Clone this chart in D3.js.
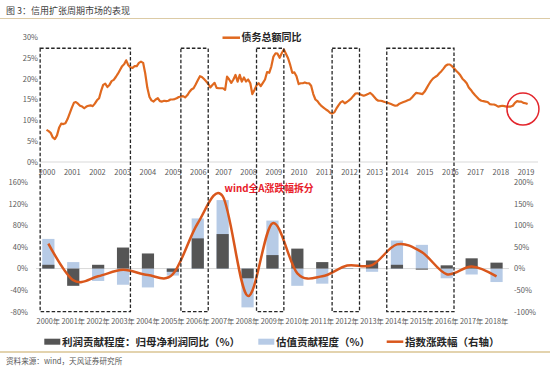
<!DOCTYPE html>
<html>
<head>
<meta charset="utf-8">
<script src="https://cdn.jsdelivr.net/npm/d3@7"></script>
<style>
  body { margin: 0; background: #fff; }
  svg text { font-family: "Noto Sans CJK SC", "Noto Sans", sans-serif; }
</style>
</head>
<body>
<div id="chart"></div>
<script>
// 债务总额同比, monthly from 2000-01 (%)
const debtStart = new Date(2000, 0, 1);
const debtYoY = [
  7.7, 7.4, 7.0, 5.9, 5.5, 6.4, 8.2, 9.2, 9.1, 9.3, 10.3, 11.6,
  13.0, 14.2, 14.4, 14.0, 13.5, 13.3, 12.9, 13.3, 13.5, 13.6, 13.4, 14.0,
  14.8, 15.3, 17.0, 18.5, 18.8, 18.0, 18.5, 19.4, 19.7, 20.4, 21.2, 22.1,
  23.0, 23.5, 24.4, 23.2, 22.7, 22.6, 23.0, 23.0, 23.8, 24.1, 23.8, 21.3,
  17.8, 15.6, 14.8, 14.5, 15.0, 15.3, 14.6, 14.5, 14.7, 14.6, 14.7, 15.0,
  15.0, 15.1, 15.3, 15.6, 15.7, 15.8, 15.5, 16.0, 16.8, 17.4, 17.7, 18.6,
  19.6, 20.6, 20.4, 19.9, 19.4, 18.8, 17.9, 18.5, 19.0, 17.8, 17.7, 17.7,
  17.7, 17.3, 20.5, 19.8, 19.0, 19.8, 20.9, 19.3, 20.9, 19.3, 20.3, 19.3,
  19.8, 18.9, 16.3, 17.3, 18.4, 18.9, 18.2, 19.0, 19.8, 21.6, 21.4, 22.9,
  25.3, 26.1, 26.0, 25.0, 26.1, 27.0, 26.0, 24.9, 23.3, 21.4, 21.5, 20.6,
  18.7, 18.9, 18.9, 19.1, 18.9, 18.9, 18.3, 16.3, 15.0, 14.6, 13.9, 13.4,
  13.0, 12.6, 12.3, 11.8, 11.6, 11.9, 12.8, 13.6, 14.3, 14.6, 14.1, 14.4,
  14.8, 15.2, 15.8, 16.4, 16.5, 16.3, 16.1, 15.9, 16.1, 16.3, 16.6, 16.2,
  15.6, 15.0, 14.7, 14.7, 14.6, 14.4, 14.3, 14.1, 13.9, 13.7, 13.5, 13.6,
  14.0, 14.2, 14.4, 14.6, 14.8, 15.0, 15.5, 16.1, 16.6, 16.5, 16.4, 16.3,
  16.9, 17.8, 18.6, 19.4, 20.0, 20.4, 20.7, 21.3, 21.8, 22.4, 23.1, 23.4,
  23.4, 23.0, 22.5, 21.9, 21.4, 20.8, 20.0, 19.5, 18.9, 17.9, 17.3, 16.6,
  16.0, 15.5, 15.0, 14.7, 14.6, 14.5, 14.4, 13.9, 13.8, 13.8, 13.6, 13.3,
  13.4, 13.5, 13.4, 13.3, 13.3, 13.3, 13.5, 14.2, 14.6, 14.5, 14.5, 14.2,
  14.1, 13.9
];
const debtTicks = [0, 5, 10, 15, 20, 25, 30];

// wind全A涨跌幅拆分, yearly
const years = ["2000年", "2001年", "2002年", "2003年", "2004年", "2005年", "2006年",
  "2007年", "2008年", "2009年", "2010年", "2011年", "2012年", "2013年", "2014年",
  "2015年", "2016年", "2017年", "2018年"];
const profitContrib = [7, -32, 7, 39, 28, -6, 56, 64, -18, 25, 37, 12, 0.5, 15, 7, -2, 6, 19, 11];
const valuationContrib = [55, 12, -23, -30, -35, -13, 93, 127, -72, 89, -32, -28, 1, -6, 52, 44, -18, -11, -25];
const indexChange = [58, -27, -18, -3, -15, -13, 105, 168, -63, 105, -11, -18, 7, 8, 56, 38, -13, 5, -18];
const leftTicks = [-80, -40, 0, 40, 80, 120, 160];
const rightTicks = [-100, -50, 0, 50, 100, 150, 200];

// credit expansion periods (dashed boxes)
const periods = [
  ["1999-10", "2003-05"],
  ["2005-05", "2006-06"],
  ["2008-05", "2009-06"],
  ["2011-05", "2012-06"],
  ["2013-07", "2016-03"]
];

const orange = "#e0691f";
const orange2 = "#d9571c";
const axisGrey = "#595959";

const svg = d3.select("#chart")
  .append("svg")
  .attr("width", 550)
  .attr("height", 371);

// header / footer
svg.append("text")
  .attr("x", 6).attr("y", 13.5)
  .attr("font-size", 9).attr("fill", "#404040")
  .text("图 3：信用扩张周期市场的表现");
svg.append("line")
  .attr("x1", 0).attr("x2", 550).attr("y1", 18.5).attr("y2", 18.5)
  .attr("stroke", "#dccba6").attr("stroke-width", 1);
svg.append("line")
  .attr("x1", 0).attr("x2", 550).attr("y1", 352).attr("y2", 352)
  .attr("stroke", "#e3d3ae").attr("stroke-width", 2);
svg.append("text")
  .attr("x", 6).attr("y", 363.5)
  .attr("font-size", 7.6).attr("fill", axisGrey)
  .text("资料来源：wind，天风证券研究所");

// ---- top chart ----
const parseMonth = d3.timeParse("%Y-%m");
const debtData = debtYoY.map((v, i) => ({ dt: d3.timeMonth.offset(debtStart, i), value: v }));

const x = d3.scaleTime()
  .domain([new Date(2000, 0, 1), new Date(2019, 0, 1)])
  .range([46.5, 525.5]);
const y = d3.scaleLinear()
  .domain([0, 30])
  .range([162, 37]);

svg.append("line")
  .attr("x1", 40).attr("x2", 538)
  .attr("y1", y(0)).attr("y2", y(0))
  .attr("stroke", "#d9d9d9");

svg.append("g")
  .attr("transform", "translate(40,0)")
  .call(d3.axisLeft(y).tickValues(debtTicks).tickSize(0).tickPadding(2).tickFormat(d => d + "%"))
  .call(g => g.select(".domain").remove())
  .call(g => g.selectAll("text").attr("font-size", 7.5).attr("fill", axisGrey).attr("font-family", null));

svg.append("g")
  .attr("transform", "translate(0," + y(0) + ")")
  .call(d3.axisBottom(x).ticks(d3.timeYear.every(1)).tickSize(0).tickPadding(8).tickFormat(d3.timeFormat("%Y")))
  .call(g => g.select(".domain").remove())
  .call(g => g.selectAll("text").attr("font-size", 7.5).attr("fill", axisGrey).attr("font-family", null));

svg.append("path")
  .datum(debtData)
  .attr("fill", "none")
  .attr("stroke", orange)
  .attr("stroke-width", 2.2)
  .attr("stroke-linejoin", "round")
  .attr("d", d3.line().x(d => x(d.dt)).y(d => y(d.value)));

// legend top
svg.append("line")
  .attr("x1", 222.5).attr("x2", 240).attr("y1", 37.7).attr("y2", 37.7)
  .attr("stroke", orange).attr("stroke-width", 2.5);
svg.append("text")
  .attr("x", 241.5).attr("y", 41.3)
  .attr("font-size", 10).attr("font-weight", "bold").attr("fill", "#262626")
  .text("债务总额同比");

// red circle round the latest readings
svg.append("circle")
  .attr("cx", x(new Date(2018, 10, 25)))
  .attr("cy", y(12.7))
  .attr("r", 16)
  .attr("fill", "none")
  .attr("stroke", "#e3262d")
  .attr("stroke-width", 1.5);

// ---- bottom chart ----
const xb = d3.scaleBand()
  .domain(years)
  .range([35.9, 509]);
const yl = d3.scaleLinear().domain([-80, 160]).range([311.7, 182.3]);
const yr = d3.scaleLinear().domain([-100, 200]).range([311.7, 182.3]);
const barW = xb.bandwidth() * 0.49;

svg.append("line")
  .attr("x1", 36).attr("x2", 509)
  .attr("y1", yl(0)).attr("y2", yl(0))
  .attr("stroke", "#d9d9d9");

svg.append("g")
  .attr("transform", "translate(30,0)")
  .call(d3.axisLeft(yl).tickValues(leftTicks).tickSize(0).tickPadding(2).tickFormat(d => d + "%"))
  .call(g => g.select(".domain").remove())
  .call(g => g.selectAll("text").attr("font-size", 7.5).attr("fill", axisGrey).attr("font-family", null));

svg.append("g")
  .attr("transform", "translate(512,0)")
  .call(d3.axisRight(yr).tickValues(rightTicks).tickSize(0).tickPadding(2).tickFormat(d => d + "%"))
  .call(g => g.select(".domain").remove())
  .call(g => g.selectAll("text").attr("font-size", 7.5).attr("fill", axisGrey).attr("font-family", null));

svg.append("g")
  .attr("transform", "translate(0," + yl(-80) + ")")
  .call(d3.axisBottom(xb).tickSize(0).tickPadding(7))
  .call(g => g.select(".domain").remove())
  .call(g => g.selectAll("text").attr("font-size", 7.3).attr("fill", axisGrey).attr("font-family", null));

svg.append("g")
  .selectAll("rect")
  .data(valuationContrib)
  .enter()
  .append("rect")
  .attr("x", (d, i) => xb(years[i]) + (xb.bandwidth() - barW) / 2)
  .attr("width", barW)
  .attr("y", d => yl(Math.max(0, d)))
  .attr("height", d => Math.abs(yl(d) - yl(0)))
  .attr("fill", "#b7cbe6");

svg.append("g")
  .selectAll("rect")
  .data(profitContrib)
  .enter()
  .append("rect")
  .attr("x", (d, i) => xb(years[i]) + (xb.bandwidth() - barW) / 2)
  .attr("width", barW)
  .attr("y", d => yl(Math.max(0, d)))
  .attr("height", d => Math.abs(yl(d) - yl(0)))
  .attr("fill", "#555555");

svg.append("path")
  .datum(indexChange)
  .attr("fill", "none")
  .attr("stroke", orange2)
  .attr("stroke-width", 2.5)
  .attr("d", d3.line()
    .curve(d3.curveCardinal.tension(0))
    .x((d, i) => xb(years[i]) + xb.bandwidth() / 2)
    .y(d => yr(d)));

svg.append("text")
  .attr("x", 224.5).attr("y", 191.8)
  .attr("font-size", 9.8).attr("font-weight", "bold").attr("fill", "#e8202a")
  .text("wind全A涨跌幅拆分");

// dashed boxes spanning both panels
svg.append("g")
  .selectAll("rect")
  .data(periods)
  .enter()
  .append("rect")
  .attr("x", d => x(parseMonth(d[0])))
  .attr("width", d => x(parseMonth(d[1])) - x(parseMonth(d[0])))
  .attr("y", y(27.3))
  .attr("height", yl(-80) - y(27.3))
  .attr("fill", "none")
  .attr("stroke", "#262626")
  .attr("stroke-width", 1.3)
  .attr("stroke-dasharray", "3.5,2");

// bottom legend
const legend = svg.append("g").attr("font-size", 10.5).attr("font-weight", "bold").attr("fill", "#262626");
legend.append("rect").attr("x", 44.3).attr("y", 338.7).attr("width", 16).attr("height", 6).attr("fill", "#555555");
legend.append("text").attr("x", 62).attr("y", 345.5).text("利润贡献程度：归母净利润同比（%）");
legend.append("rect").attr("x", 258.3).attr("y", 338.7).attr("width", 16).attr("height", 6).attr("fill", "#b7cbe6");
legend.append("text").attr("x", 276).attr("y", 345.5).text("估值贡献程度（%）");
legend.append("line").attr("x1", 386.7).attr("x2", 403.3).attr("y1", 341.7).attr("y2", 341.7)
  .attr("stroke", orange2).attr("stroke-width", 2.5);
legend.append("text").attr("x", 405).attr("y", 345.5).text("指数涨跌幅（右轴）");
</script>
</body>
</html>
